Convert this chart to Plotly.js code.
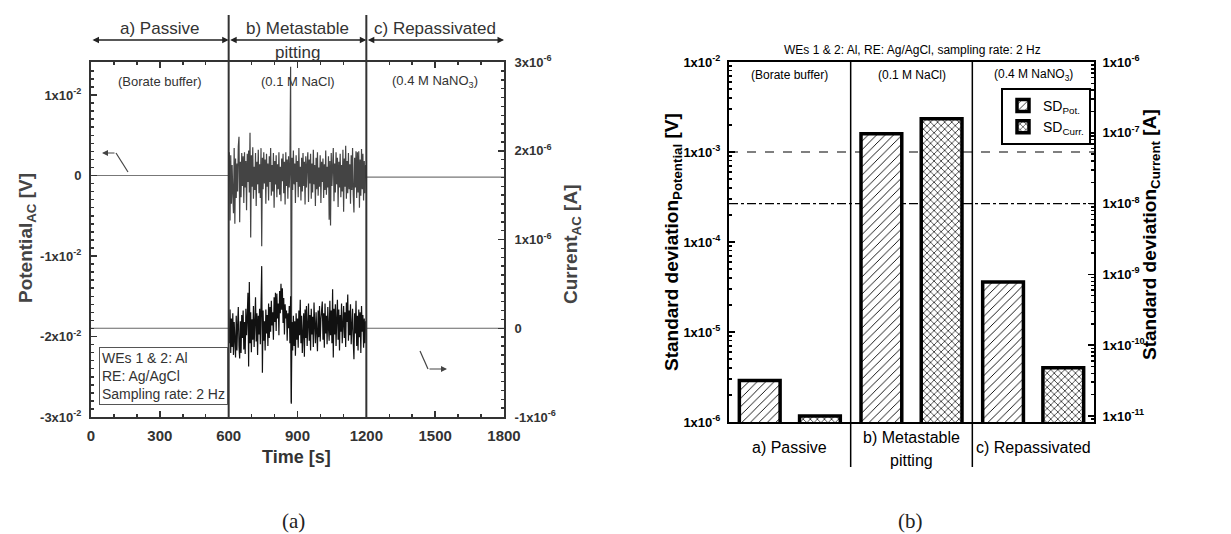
<!DOCTYPE html>
<html><head><meta charset="utf-8">
<script src="https://cdn.plot.ly/plotly-3.0.1.min.js"></script>
<style>html,body{margin:0;padding:0;background:#fff;}#chart{width:1231px;height:534px;}</style>
</head><body><div id="chart"></div>
<script>
// ================= DATA =================
// Panel (a): electrochemical noise, time in s
const phaseBounds = [0, 600, 1200, 1800];
const phaseNames = [['a) Passive'], ['b) Metastable', 'pitting'], ['c) Repassivated']];
const electrolytes = ['(Borate buffer)', '(0.1 M NaCl)', '(0.4 M NaNO<sub>3</sub>)'];
const timeTicks = [0, 300, 600, 900, 1200, 1500, 1800];
const potTicks = [-0.03, -0.02, -0.01, 0, 0.01];
const potTickText = ['-3x10<sup>-2</sup>', '-2x10<sup>-2</sup>', '-1x10<sup>-2</sup>', '0', '1x10<sup>-2</sup>'];
const curTicks = [-1e-6, 0, 1e-6, 2e-6, 3e-6];
const curTickText = ['-1x10<sup>-6</sup>', '0', '1x10<sup>-6</sup>', '2x10<sup>-6</sup>', '3x10<sup>-6</sup>'];

// passive and repassivated segments (flat)
const passiveTime = [0, 600];
const passivePot = [0, 0];            // V
const passiveCur = [0, 0];            // µA
const repassTime = [1200, 1800];
const repassPot = [-0.0002, -0.0002]; // V
const repassCur = [0, 0];             // µA

// metastable pitting segment (600-1200 s), potential in V
const potNoise = [
 0.0000, 0.0029, -0.0056, 0.0025, -0.0035, 0.0013, -0.0022, -0.0047, 0.0034, -0.0060,
 0.0021, -0.0028, 0.0015, -0.0020, 0.0036, 0.0048, -0.0058, 0.0017, -0.0027, 0.0028,
 -0.0013, 0.0024, -0.0034, 0.0029, -0.0015, 0.0018, -0.0043, 0.0027, -0.0008, 0.0031,
 -0.0021, 0.0053, -0.0077, 0.0025, -0.0014, 0.0035, -0.0029, 0.0011, -0.0018, 0.0028,
 -0.0038, 0.0017, -0.0011, 0.0032, -0.0022, 0.0014, -0.0028, 0.0034, -0.0088, 0.0022,
 -0.0017, 0.0029, -0.0010, 0.0020, -0.0035, 0.0027, -0.0014, 0.0015, -0.0031, 0.0024,
 -0.0008, 0.0034, -0.0025, 0.0013, -0.0020, 0.0028, -0.0040, 0.0018, -0.0011, 0.0025,
 -0.0027, 0.0014, -0.0017, 0.0029, -0.0024, 0.0011, -0.0032, 0.0021, -0.0007, 0.0027,
 -0.0022, 0.0017, -0.0036, 0.0029, -0.0013, 0.0020, -0.0029, 0.0024, -0.0015, 0.0013,
 0.0135, -0.0282, 0.0022, -0.0018, 0.0031, -0.0011, 0.0015, -0.0034, 0.0025, -0.0008,
 0.0018, -0.0027, 0.0034, -0.0014, 0.0011, -0.0031, 0.0022, -0.0020, 0.0028, -0.0013,
 0.0017, -0.0036, 0.0024, -0.0015, 0.0014, 0.0029, -0.0033, 0.0020, -0.0010, 0.0027,
 -0.0029, 0.0015, -0.0021, 0.0032, -0.0011, 0.0013, -0.0038, 0.0022, -0.0017, 0.0029,
 -0.0025, 0.0010, -0.0014, 0.0025, -0.0034, 0.0017, -0.0008, 0.0021, -0.0028, 0.0014,
 -0.0018, 0.0031, -0.0024, 0.0011, -0.0015, 0.0024, -0.0055, 0.0018, -0.0062, 0.0028,
 -0.0013, 0.0020, 0.0034, -0.0032, 0.0015, -0.0021, 0.0029, -0.0011, 0.0022, -0.0039,
 0.0017, -0.0015, 0.0027, -0.0027, 0.0013, -0.0020, 0.0032, -0.0045, 0.0021, -0.0014,
 0.0037, -0.0029, 0.0018, -0.0022, 0.0028, -0.0017, 0.0014, -0.0035, 0.0025, -0.0018,
 0.0034, -0.0024, -0.0046, 0.0022, -0.0015, 0.0030, -0.0028, 0.0029, -0.0021, 0.0030,
 -0.0040, 0.0020, -0.0025, 0.0033, -0.0017, 0.0027, -0.0031, 0.0018, -0.0022, 0.0013,
 -0.0003
];
// metastable pitting segment, current in µA
const curNoise = [
 0.00, -0.17, 0.21, -0.28, 0.11, -0.21, 0.17, -0.30, 0.07, -0.14,
 -0.33, 0.14, -0.25, 0.03, 0.24, -0.20, -0.34, 0.08, -0.28, 0.15,
 -0.11, 0.20, -0.24, 0.07, -0.29, 0.22, -0.08, 0.13, 0.40, -0.43,
 0.52, -0.17, 0.18, -0.27, 0.10, -0.13, 0.25, -0.21, 0.06, 0.35,
 -0.15, 0.17, -0.30, 0.14, -0.07, 0.22, -0.18, 0.11, 0.70, -0.50,
 0.20, -0.14, 0.08, -0.25, 0.21, -0.06, 0.15, -0.20, 0.28, -0.11,
 0.24, -0.04, 0.31, 0.03, 0.18, -0.13, 0.35, 0.07, 0.40, -0.03,
 0.39, 0.11, 0.28, -0.08, 0.42, 0.17, 0.50, 0.21, 0.45, 0.06,
 0.34, -0.07, 0.27, 0.11, 0.20, -0.14, 0.17, 0.00, 0.25, -0.17,
 0.36, -0.85, 0.07, -0.25, 0.14, -0.20, 0.08, -0.31, 0.17, -0.13,
 0.11, -0.22, 0.20, -0.08, 0.32, -0.17, 0.14, -0.28, 0.07, 0.17,
 -0.32, 0.21, -0.11, 0.25, -0.20, 0.06, 0.28, -0.14, 0.15, -0.25,
 0.22, -0.07, 0.13, -0.21, 0.29, 0.03, -0.17, 0.18, -0.06, -0.26,
 0.20, -0.10, 0.25, -0.15, 0.10, 0.21, 0.30, -0.13, 0.17, -0.22,
 0.28, -0.06, 0.14, -0.18, 0.24, 0.01, -0.14, 0.31, -0.08, 0.20,
 -0.17, 0.44, -0.33, 0.22, -0.07, 0.27, -0.20, 0.11, 0.32, -0.13,
 0.21, -0.25, 0.15, -0.04, 0.28, -0.17, 0.10, 0.25, -0.11, 0.18,
 -0.21, 0.29, 0.07, 0.38, -0.14, 0.20, -0.08, 0.27, -0.18, 0.13,
 0.22, -0.15, -0.35, 0.17, -0.06, 0.31, -0.20, 0.14, -0.25, 0.21,
 -0.10, 0.18, -0.28, 0.25, -0.04, 0.15, -0.22, 0.11, -0.17, 0.08,
 0.00
];
const microAmp = 1e-6;

// Panel (b): standard deviations
const sdCategories = ['a) Passive', 'b) Metastable pitting', 'c) Repassivated'];
const sdCategoryLines = [['a) Passive'], ['b) Metastable', 'pitting'], ['c) Repassivated']];
const sdPotential = [2.9e-6, 1.6e-3, 3.6e-5];     // V
const sdCurrent = [1.0e-11, 1.58e-7, 4.8e-11];    // A
const sdPotTicks = [1e-6, 1e-5, 1e-4, 1e-3, 1e-2];
const sdPotTickText = ['1x10<sup>-6</sup>', '1x10<sup>-5</sup>', '1x10<sup>-4</sup>', '1x10<sup>-3</sup>', '1x10<sup>-2</sup>'];
const sdCurTicks = [1e-11, 1e-10, 1e-9, 1e-8, 1e-7, 1e-6];
const sdCurTickText = ['1x10<sup>-11</sup>', '1x10<sup>-10</sup>', '1x10<sup>-9</sup>', '1x10<sup>-8</sup>', '1x10<sup>-7</sup>', '1x10<sup>-6</sup>'];
const potThreshold = 1e-3;   // V   (dashed)
const curThreshold = 1e-8;   // A   (dash-dot)

// ================= LAYOUT HELPERS =================
const W = 1231, H = 534;
const px = x => x / W;
const py = y => 1 - y / H;
const FONT = 'Liberation Sans, Arial, sans-serif';
const GREY = '#333';

const metT = potNoise.map((_, i) => phaseBounds[1] + i * (phaseBounds[2] - phaseBounds[1]) / (potNoise.length - 1));
const metTc = curNoise.map((_, i) => phaseBounds[1] + i * (phaseBounds[2] - phaseBounds[1]) / (curNoise.length - 1));
const toA = arr => arr.map(v => v * microAmp);

const traces = [
  {x: passiveTime, y: passivePot, xaxis: 'x', yaxis: 'y', mode: 'lines', line: {color: '#777', width: 1.2}, showlegend: false, hoverinfo: 'skip'},
  {x: metT, y: potNoise, xaxis: 'x', yaxis: 'y', mode: 'lines', line: {color: '#444', width: 1.2}, showlegend: false, hoverinfo: 'skip'},
  {x: repassTime, y: repassPot, xaxis: 'x', yaxis: 'y', mode: 'lines', line: {color: '#777', width: 1.2}, showlegend: false, hoverinfo: 'skip'},
  {x: passiveTime, y: toA(passiveCur), xaxis: 'x', yaxis: 'y2', mode: 'lines', line: {color: '#666', width: 1.2}, showlegend: false, hoverinfo: 'skip'},
  {x: metTc, y: toA(curNoise), xaxis: 'x', yaxis: 'y2', mode: 'lines', line: {color: '#111', width: 1.2}, showlegend: false, hoverinfo: 'skip'},
  {x: repassTime, y: toA(repassCur), xaxis: 'x', yaxis: 'y2', mode: 'lines', line: {color: '#666', width: 1.2}, showlegend: false, hoverinfo: 'skip'},
  {type: 'bar', name: 'SD<sub>Pot.</sub>', x: sdCategories, y: sdPotential, xaxis: 'x3', yaxis: 'y3',
   offset: -0.415, width: 0.335,
   marker: {color: '#fff', line: {color: '#000', width: 3.5},
            pattern: {shape: '/', fgcolor: '#000', bgcolor: '#fff', size: 6, solidity: 0.15}}},
  {type: 'bar', name: 'SD<sub>Curr.</sub>', x: sdCategories, y: sdCurrent, xaxis: 'x3', yaxis: 'y4',
   offset: 0.08, width: 0.335,
   marker: {color: '#fff', line: {color: '#000', width: 3.5},
            pattern: {shape: 'x', fgcolor: '#000', bgcolor: '#fff', size: 5, solidity: 0.25}}}
];

const axA = {
  showgrid: false, zeroline: false, showline: true, linewidth: 2, linecolor: GREY,
  ticks: 'inside', ticklen: 6, tickwidth: 1.5, tickcolor: GREY
};
const axB = {
  showgrid: false, zeroline: false, showline: true, linewidth: 2, linecolor: '#000',
  ticks: 'inside', ticklen: 6, tickwidth: 1.5, tickcolor: '#000'
};

const annotations = [];
const shapes = [];
// text annotation helper: always centered on its anchor point
const txt = (o) => annotations.push(Object.assign({showarrow: false, xanchor: 'center', yanchor: 'middle'}, o));

// ---- panel (a) decorations ----
for (let i = 0; i < 3; i++) {
  const a = phaseBounds[i], b = phaseBounds[i + 1], mid = (a + b) / 2;
  annotations.push({xref: 'x', yref: 'paper', x: b, y: py(40), axref: 'x', ax: a, ayref: 'pixel', ay: 0,
    text: '', showarrow: true, arrowside: 'end+start', arrowhead: 2, arrowsize: 1, arrowwidth: 1.3, arrowcolor: '#222', standoff: 0, startstandoff: 0});
  txt({xref: 'x', yref: 'paper', x: mid, y: py(28), text: phaseNames[i][0], font: {family: FONT, size: 17, color: GREY}});
  if (phaseNames[i][1]) txt({xref: 'x', yref: 'paper', x: mid, y: py(52), text: phaseNames[i][1], font: {family: FONT, size: 17, color: GREY}});
  txt({xref: 'x', yref: 'paper', x: mid, y: py(81), text: electrolytes[i], font: {family: FONT, size: 13, color: GREY}});
}
[phaseBounds[1], phaseBounds[2]].forEach(t => shapes.push({type: 'line', xref: 'x', yref: 'paper', x0: t, x1: t,
  y0: py(417), y1: py(15), line: {color: GREY, width: 2}}));

// potential arrow (points left)
annotations.push({xref: 'paper', yref: 'paper', x: px(102), y: py(153), ax: 14, ay: 0, text: '', showarrow: true,
  arrowhead: 2, arrowsize: 1, arrowwidth: 1.2, arrowcolor: '#444'});
shapes.push({type: 'line', xref: 'paper', yref: 'paper', x0: px(116), y0: py(153), x1: px(128), y1: py(172), line: {color: '#444', width: 1.2}});
// current arrow (points right)
annotations.push({xref: 'paper', yref: 'paper', x: px(447), y: py(369), ax: -19, ay: 0, text: '', showarrow: true,
  arrowhead: 2, arrowsize: 1, arrowwidth: 1.2, arrowcolor: '#444'});
shapes.push({type: 'line', xref: 'paper', yref: 'paper', x0: px(428), y0: py(369), x1: px(420), y1: py(351), line: {color: '#444', width: 1.2}});

// info box
annotations.push({xref: 'paper', yref: 'paper', x: px(99), y: py(347), xanchor: 'left', yanchor: 'top', align: 'left',
  text: 'WEs 1 &amp; 2: Al<br>RE: Ag/AgCl<br>Sampling rate: 2 Hz', showarrow: false,
  bordercolor: '#555', borderwidth: 1, borderpad: 2, bgcolor: '#fff',
  font: {family: FONT, size: 14, color: GREY}});

// axis titles (a)
txt({xref: 'paper', yref: 'paper', x: px(296), y: py(457), text: 'Time [s]', font: {family: FONT, size: 18, color: GREY, weight: 'bold'}});
txt({xref: 'paper', yref: 'paper', x: px(27), y: py(238), text: 'Potential<sub>AC</sub> [V]', textangle: -90, font: {family: FONT, size: 19, color: '#444', weight: 'bold'}});
txt({xref: 'paper', yref: 'paper', x: px(572), y: py(244), text: 'Current<sub>AC</sub> [A]', textangle: -90, font: {family: FONT, size: 19, color: '#444', weight: 'bold'}});
txt({xref: 'paper', yref: 'paper', x: px(293), y: py(521), text: '(a)', font: {family: 'Liberation Serif, DejaVu Serif, serif', size: 21, color: '#222'}});

// ---- panel (b) decorations ----
txt({xref: 'paper', yref: 'paper', x: px(912), y: py(50), text: 'WEs 1 &amp; 2: Al, RE: Ag/AgCl, sampling rate: 2 Hz', font: {family: FONT, size: 12, color: '#000'}});
for (let i = 0; i < 3; i++) {
  txt({xref: 'x3', yref: 'paper', x: i, y: py(75), text: electrolytes[i], font: {family: FONT, size: 12, color: '#000'}});
  const lines = sdCategoryLines[i];
  if (lines.length === 1) {
    txt({xref: 'x3', yref: 'paper', x: i, y: py(447), text: lines[0], font: {family: FONT, size: 16, color: '#000'}});
  } else {
    txt({xref: 'x3', yref: 'paper', x: i, y: py(437), text: lines[0], font: {family: FONT, size: 16, color: '#000'}});
    txt({xref: 'x3', yref: 'paper', x: i, y: py(460), text: lines[1], font: {family: FONT, size: 16, color: '#000'}});
  }
}
[0.5, 1.5].forEach(k => shapes.push({type: 'line', xref: 'x3', yref: 'paper', x0: k, x1: k, y0: py(467), y1: py(62),
  line: {color: '#000', width: 1.5}}));
shapes.push({type: 'line', xref: 'x3 domain', yref: 'y3', x0: 0, x1: 1, y0: potThreshold, y1: potThreshold,
  layer: 'below', line: {color: '#000', width: 1.2, dash: 'dash'}});
shapes.push({type: 'line', xref: 'x3 domain', yref: 'y4', x0: 0, x1: 1, y0: curThreshold, y1: curThreshold,
  layer: 'below', line: {color: '#000', width: 1.2, dash: 'dashdot'}});

txt({xref: 'paper', yref: 'paper', x: px(673), y: py(242), text: 'Standard deviation<sub>Potential</sub> [V]', textangle: -90, font: {family: FONT, size: 19, color: '#000', weight: 'bold'}});
txt({xref: 'paper', yref: 'paper', x: px(1151), y: py(235), text: 'Standard deviation<sub>Current</sub> [A]', textangle: -90, font: {family: FONT, size: 19, color: '#000', weight: 'bold'}});
txt({xref: 'paper', yref: 'paper', x: px(910), y: py(521), text: '(b)', font: {family: 'Liberation Serif, DejaVu Serif, serif', size: 21, color: '#222'}});

const layout = {
  width: W, height: H, margin: {l: 0, r: 0, t: 0, b: 0},
  paper_bgcolor: '#fff', plot_bgcolor: 'rgba(0,0,0,0)',
  font: {family: FONT, color: '#000'},
  showlegend: true,
  legend: {x: px(1001), y: py(88), xanchor: 'left', yanchor: 'top', bgcolor: '#fff', bordercolor: '#000', borderwidth: 2,
    font: {family: FONT, size: 14, color: '#000'}, tracegroupgap: 0, itemwidth: 30},
  barmode: 'overlay',
  xaxis: Object.assign({}, axA, {domain: [px(91), px(504)], anchor: 'y', range: [0, 1800], tickvals: timeTicks,
    mirror: 'ticks', ticklabelstandoff: 4,
    tickfont: {family: FONT, size: 15, color: GREY, weight: 'bold'},
    minor: {dtick: 100, ticks: 'inside', ticklen: 3, tickcolor: GREY, showgrid: false}}),
  yaxis: Object.assign({}, axA, {domain: [py(417), py(62)], anchor: 'x', range: [-0.03, 0.0141],
    tickvals: potTicks, ticktext: potTickText, ticklabelstandoff: 5,
    tickfont: {family: FONT, size: 13, color: GREY, weight: 'bold'},
    minor: {dtick: 0.001, ticks: 'inside', ticklen: 3, tickcolor: GREY, showgrid: false}}),
  yaxis2: Object.assign({}, axA, {overlaying: 'y', side: 'right', anchor: 'x', range: [-1e-6, 3e-6],
    tickvals: curTicks, ticktext: curTickText, ticklabelstandoff: 6,
    tickfont: {family: FONT, size: 13, color: GREY, weight: 'bold'},
    minor: {dtick: 1e-7, ticks: 'inside', ticklen: 3, tickcolor: GREY, showgrid: false}}),
  xaxis3: {domain: [px(729), px(1094)], anchor: 'y3', type: 'category', range: [-0.5, 2.5],
    showgrid: false, zeroline: false, showline: true, linewidth: 2, linecolor: '#000', mirror: true,
    ticks: '', showticklabels: false},
  yaxis3: Object.assign({}, axB, {domain: [py(422), py(62)], anchor: 'x3', type: 'log', range: [-6, -2],
    tickvals: sdPotTicks, ticktext: sdPotTickText, ticklabelstandoff: 4,
    tickfont: {family: FONT, size: 13, color: '#000', weight: 'bold'},
    minor: {dtick: 'D1', ticks: 'inside', ticklen: 3, tickcolor: '#000', showgrid: false}}),
  yaxis4: Object.assign({}, axB, {overlaying: 'y3', side: 'right', anchor: 'x3', type: 'log', range: [-11.085, -6],
    tickvals: sdCurTicks, ticktext: sdCurTickText, ticklabelstandoff: 4,
    tickfont: {family: FONT, size: 13, color: '#000', weight: 'bold'},
    minor: {dtick: 'D1', ticks: 'inside', ticklen: 3, tickcolor: '#000', showgrid: false}}),
  annotations: annotations,
  shapes: shapes
};

Plotly.newPlot('chart', traces, layout, {staticPlot: true, displayModeBar: false});
</script>
</body></html>
